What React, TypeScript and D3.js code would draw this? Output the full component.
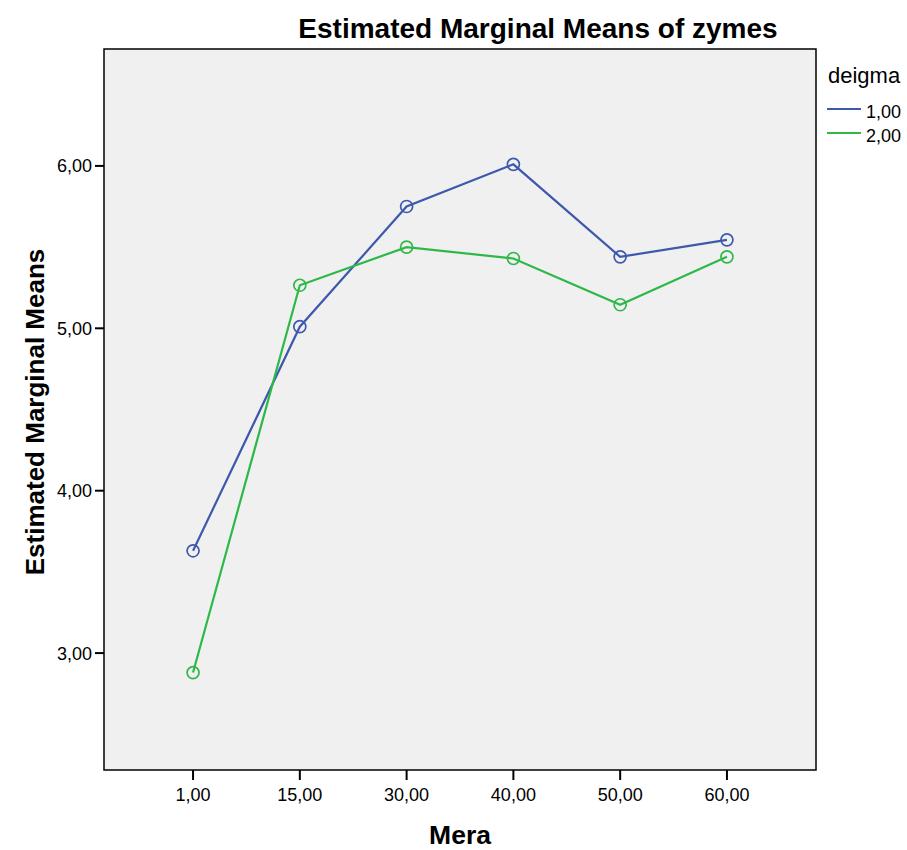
import React from "react";
import * as d3 from "d3";

const categories = ["1,00", "15,00", "30,00", "40,00", "50,00", "60,00"];
const series1Values = [3.63, 5.01, 5.75, 6.01, 5.44, 5.545];
const series2Values = [2.88, 5.265, 5.5, 5.43, 5.145, 5.44];
const seriesNames = ["1,00", "2,00"];
const seriesColors = ["#3E58AC", "#2EB848"];
const yTicks = [3, 4, 5, 6];

const W = 907;
const H = 850;
const left = 104;
const right = 816;
const top = 49;
const bottom = 770;

export default function App() {
  const x = d3.scalePoint<string>().domain(categories).range([left, right]).padding(0.834);
  const y = d3.scaleLinear().domain([2.28, 6.72]).range([bottom, top]);
  const line = d3
    .line<number>()
    .x((_, i) => x(categories[i]) as number)
    .y((d) => y(d));
  const allSeries = [series1Values, series2Values];
  const fmt = (v: number) => v.toFixed(2).replace(".", ",");
  const font = "'Liberation Sans', Arial, sans-serif";

  return (
    <svg
      width={W}
      height={H}
      style={{ position: "absolute", left: 0, top: 0, background: "#fff" }}
      fontFamily={font}
    >
      <rect x={left} y={top} width={right - left} height={bottom - top} fill="#F0F0F0" stroke="#000" strokeWidth={1.5} />
      {yTicks.map((t) => (
        <g key={t}>
          <line x1={left - 9} x2={left} y1={y(t)} y2={y(t)} stroke="#000" strokeWidth={2} />
          <text x={left - 12} y={y(t)} dy="0.36em" textAnchor="end" fontSize={18} fill="#000">
            {fmt(t)}
          </text>
        </g>
      ))}
      {categories.map((c) => (
        <g key={c}>
          <line x1={x(c)} x2={x(c)} y1={bottom} y2={bottom + 10} stroke="#000" strokeWidth={2} />
          <text x={x(c)} y={801} textAnchor="middle" fontSize={18} fill="#000">
            {c}
          </text>
        </g>
      ))}
      {allSeries.map((vals, si) => (
        <g key={si}>
          <path d={line(vals) || ""} fill="none" stroke={seriesColors[si]} strokeWidth={2.2} />
          {vals.map((v, i) => (
            <circle key={i} cx={x(categories[i])} cy={y(v)} r={6} fill="none" stroke={seriesColors[si]} strokeWidth={1.7} />
          ))}
        </g>
      ))}
      <text x={538} y={38} textAnchor="middle" fontSize={28} fontWeight="bold" fill="#000">
        Estimated Marginal Means of zymes
      </text>
      <text x={460} y={844} textAnchor="middle" fontSize={26.5} fontWeight="bold" fill="#000">
        Mera
      </text>
      <text
        transform={`translate(44, 412) rotate(-90)`}
        textAnchor="middle"
        fontSize={26}
        fontWeight="bold"
        fill="#000"
      >
        Estimated Marginal Means
      </text>
      <text x={828} y={83} fontSize={22} fill="#000">
        deigma
      </text>
      {seriesNames.map((n, i) => (
        <g key={n}>
          <line x1={827} x2={861} y1={109 + i * 24} y2={109 + i * 24} stroke={seriesColors[i]} strokeWidth={2.2} />
          <text x={866} y={118 + i * 24} fontSize={18} fill="#000">
            {n}
          </text>
        </g>
      ))}
    </svg>
  );
}
